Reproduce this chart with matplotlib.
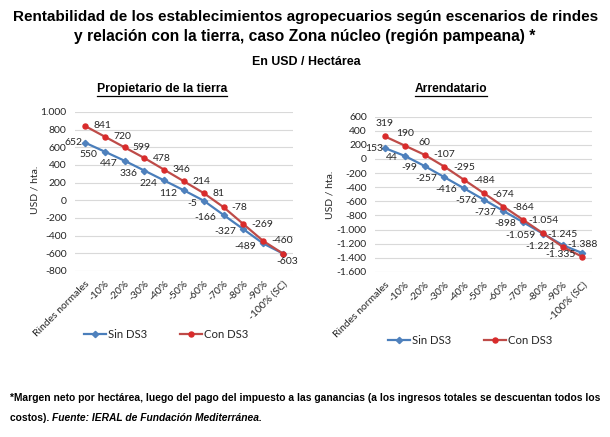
import matplotlib
matplotlib.use("Agg")
import matplotlib.pyplot as plt
from matplotlib.lines import Line2D

# ---- data ----
categories = ['Rindes normales', '-10%', '-20%', '-30%', '-40%', '-50%',
              '-60%', '-70%', '-80%', '-90%', '-100% (SC)']
prop_sin = [652, 550, 447, 336, 224, 112, -5, -166, -327, -489, -603]
prop_con = [841, 720, 599, 478, 346, 214, 81, -78, -269, -460, -603]
arr_sin = [153, 44, -99, -257, -416, -576, -737, -898, -1059, -1221, -1335]
arr_con = [319, 190, 60, -107, -295, -484, -674, -864, -1054, -1245, -1388]
prop_ticks = list(range(-800, 1001, 200))
arr_ticks = list(range(-1600, 601, 200))

BLUE_L = '#4a7ebb'
BLUE_M = '#4f81bd'
RED_L = '#be4b48'
RED_M = '#d92b2b'
GRID = '#d9d9d9'
TXT = '#262626'

TITLE_FONT = ['Liberation Sans', 'DejaVu Sans']
BODY_FONT = ['Lato', 'DejaVu Sans']

def fmt(v):
    return f"{v:,}".replace(",", ".")

fig = plt.figure(figsize=(6.10, 4.37), dpi=100)
renderer = fig.canvas.get_renderer()
W, H = fig.bbox.width, fig.bbox.height

def fit_text(x, y, s, target_px, size0=10, **kw):
    t = fig.text(x, y, s, fontsize=size0, **kw)
    w = t.get_window_extent(renderer).width
    t.set_fontsize(size0 * target_px / w)
    return t

def make_axes(rect, sin, con, ticks):
    ax = fig.add_axes(rect)
    x = list(range(len(categories)))
    ax.plot(x, sin, color=BLUE_L, lw=1.6, marker='D', ms=3.2, mfc=BLUE_M, mec=BLUE_M, zorder=3)
    ax.plot(x, con, color=RED_L, lw=1.6, marker='o', ms=3.6, mfc=RED_M, mec=RED_M, zorder=4)
    ax.set_xlim(-0.5, len(categories) - 0.5)
    ax.set_ylim(ticks[0], ticks[-1])
    ax.set_yticks(ticks)
    ax.set_yticklabels([fmt(t) for t in ticks], fontsize=7.5, color=TXT, family=BODY_FONT)
    ax.set_xticks(x)
    ax.set_xticklabels(categories, rotation=45, ha='right', rotation_mode='anchor',
                       fontsize=7.5, color=TXT, family=BODY_FONT)
    ax.tick_params(axis='both', length=0)
    ax.tick_params(axis='x', pad=6)
    ax.tick_params(axis='y', pad=6)
    ax.grid(axis='y', color=GRID, lw=0.8)
    ax.set_axisbelow(True)
    for s in ax.spines.values():
        s.set_visible(False)
    return ax, x

def lab(ax, s, xy, off, ha):
    ax.annotate(s, xy, xytext=off, textcoords='offset points', ha=ha, va='center',
                fontsize=7.5, color=TXT, family=BODY_FONT, zorder=6)

# ---- left chart ----
axL, x = make_axes([0.123, 0.380, 0.357, 0.364], prop_sin, prop_con, prop_ticks)
fig.text(35 / W, 1 - 190 / H, 'USD / hta.', rotation=90, ha='center', va='center',
         fontsize=7.5, color=TXT, family=BODY_FONT)
for i, v in enumerate(prop_sin[:-1]):
    lab(axL, fmt(v), (x[i], v), (-1.5, 0) if i == 0 else (-5, -2), 'right')
for i, v in enumerate(prop_con):
    if i == len(prop_con) - 1:
        lab(axL, fmt(v), (x[i], v), (3, -6), 'center')
    else:
        lab(axL, fmt(v), (x[i], v), (6, 0), 'left')

# ---- right chart ----
axR, x = make_axes([0.615, 0.378, 0.356, 0.355], arr_sin, arr_con, arr_ticks)
fig.text(330 / W, 1 - 195 / H, 'USD / hta.', rotation=90, ha='center', va='center',
         fontsize=7.5, color=TXT, family=BODY_FONT)
for i, v in enumerate(arr_sin):
    lab(axR, fmt(v), (x[i], v), (-1.5, 0) if i == 0 else (-5, -1), 'right')
for i, v in enumerate(arr_con):
    lab(axR, fmt(v), (x[i], v), (0, 9), 'center')

# ---- legends ----
def legend_handles():
    return [Line2D([0], [0], color=BLUE_L, lw=1.6, marker='D', ms=3.2, mfc=BLUE_M, mec=BLUE_M),
            Line2D([0], [0], color=RED_L, lw=1.6, marker='o', ms=3.6, mfc=RED_M, mec=RED_M)]

for cx, cy in [(166 / W, 1 - 334 / H), (470 / W, 1 - 340 / H)]:
    fig.legend(legend_handles(), ['Sin DS3', 'Con DS3'], loc='center',
               bbox_to_anchor=(cx, cy), ncol=2, frameon=False,
               prop={'family': BODY_FONT, 'size': 8.2}, labelcolor=TXT,
               handlelength=1.9, handletextpad=0.2, columnspacing=2.9)

# ---- titles ----
tkw = dict(ha='center', va='center', fontweight='bold', family=TITLE_FONT, color='black')
fit_text(306 / W, 1 - 17 / H, 'Rentabilidad de los establecimientos agropecuarios según escenarios de rindes',
         582, **tkw)
fit_text(305 / W, 1 - 36 / H, 'y relación con la tierra, caso Zona núcleo (región pampeana) *', 460, **tkw)
fit_text(306 / W, 1 - 62 / H, 'En USD / Hectárea', 108, **tkw)

sub1 = fit_text(162 / W, 1 - 89 / H, 'Propietario de la tierra', 130, **tkw)
sub2 = fit_text(451 / W, 1 - 89 / H, 'Arrendatario', 72, **tkw)
for t in (sub1, sub2):
    bb = t.get_window_extent(renderer)
    yline = (bb.y0 - 0.5) / H
    fig.add_artist(Line2D([bb.x0 / W, bb.x1 / W], [yline, yline], color='black', lw=0.9))

# ---- footnote ----
fkw = dict(ha='left', va='center', fontweight='bold', family=TITLE_FONT, color='black')
f0 = fit_text(10 / W, 1 - 398 / H,
              '*Margen neto por hectárea, luego del pago del impuesto a las ganancias (a los ingresos totales se descuentan todos los',
              590, **fkw)
fs = f0.get_fontsize()
f1 = fig.text(10 / W, 1 - 418 / H, 'costos). ', fontsize=fs, **fkw)
bb = f1.get_window_extent(renderer)
fig.text(bb.x1 / W, 1 - 418 / H, 'Fuente: IERAL de Fundación Mediterránea.', fontsize=fs,
         style='italic', **fkw)

fig.savefig('out.png', dpi=100, facecolor='white')
